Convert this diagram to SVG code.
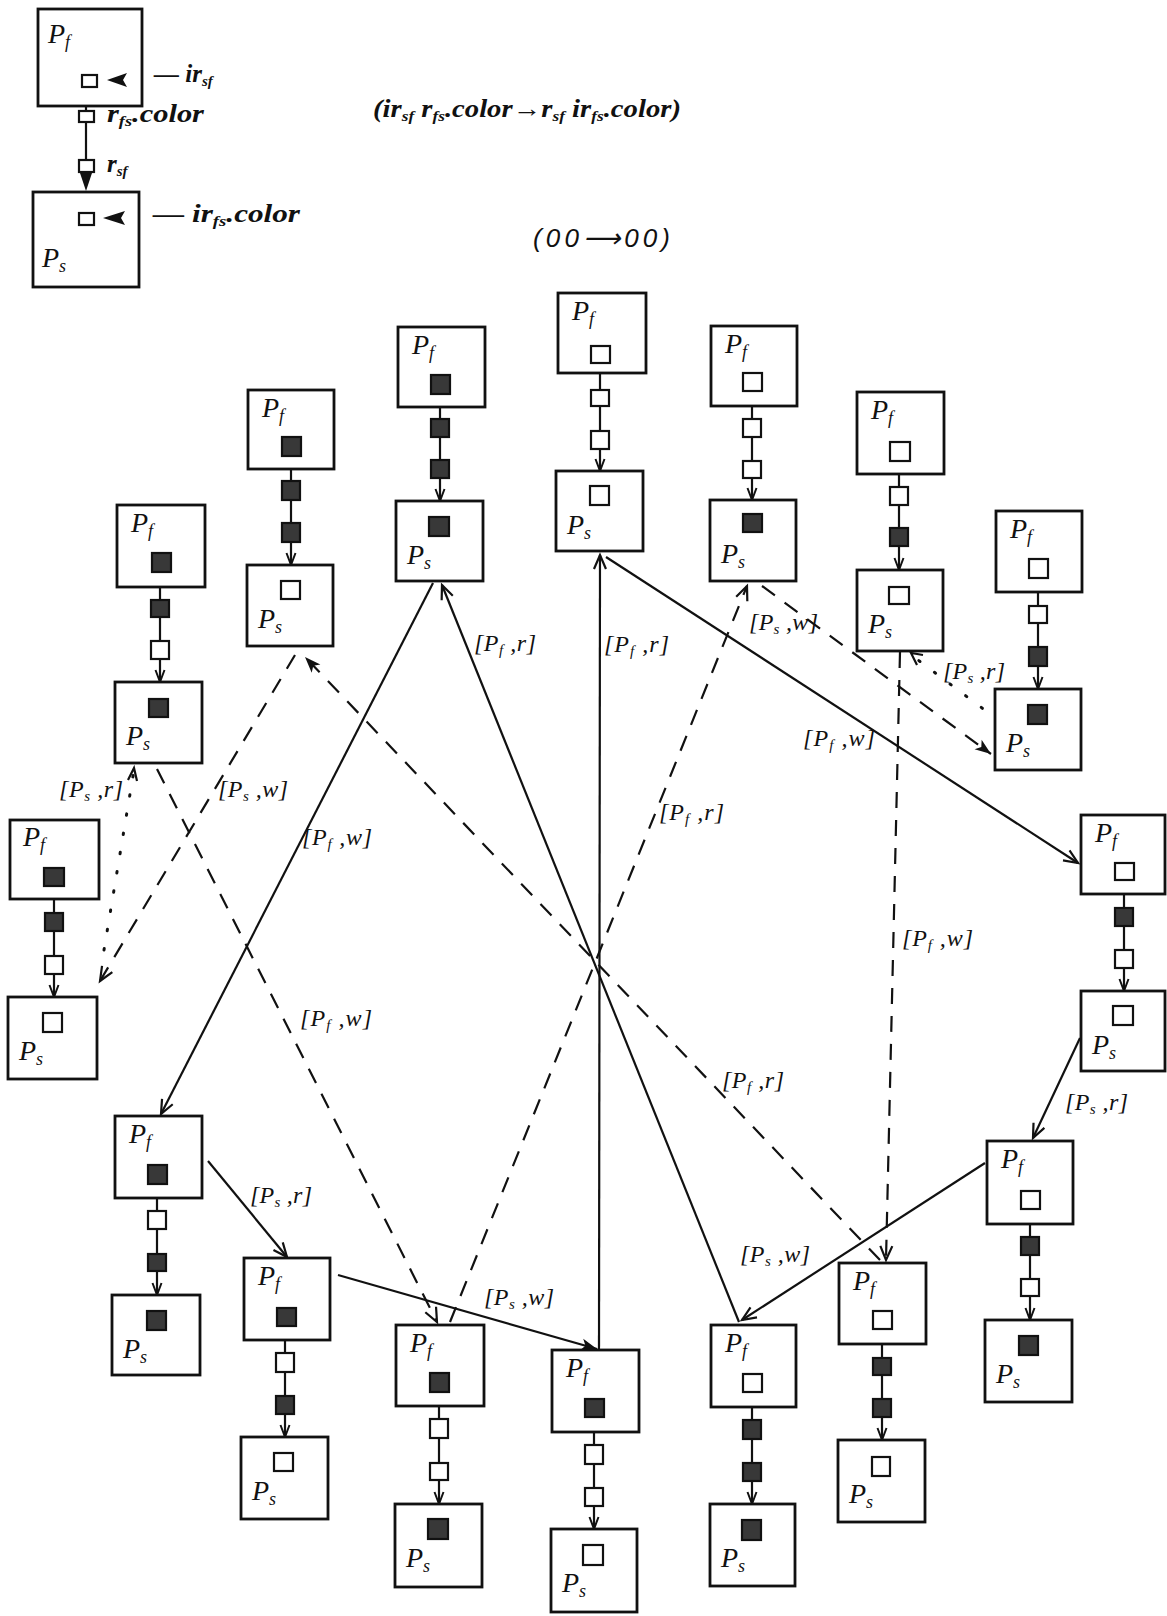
<svg xmlns="http://www.w3.org/2000/svg" width="1167" height="1616" viewBox="0 0 1167 1616">
<defs>
<style>
.box{fill:#fff;stroke:#111;stroke-width:2.8}
.sq{fill:#fff;stroke:#111;stroke-width:2.2}
.sqf{fill:#383838;stroke:#111;stroke-width:2.2}
.ln{stroke:#111;stroke-width:2.2;fill:none}
.dash{stroke-dasharray:16 12}
.dot{stroke-dasharray:1.5 18;stroke-linecap:round;stroke-width:3}
.lbl{font-family:"Liberation Serif",serif;font-style:italic;font-size:24px;fill:#111}
.sub{font-size:15px}
.nm{font-family:"Liberation Serif",serif;font-style:italic;font-size:28px;fill:#111}
.sb{font-size:18px}
.lg{font-family:"Liberation Serif",serif;font-style:italic;font-weight:bold;font-size:25px;fill:#111}
.lgs{font-size:15px}
</style>
<marker id="ao" markerUnits="userSpaceOnUse" markerWidth="20" markerHeight="16" refX="15" refY="8" orient="auto" overflow="visible"><path d="M1,2 L15,8 L1,14" fill="none" stroke="#111" stroke-width="2.2"/></marker>
<marker id="as" markerUnits="userSpaceOnUse" markerWidth="14" markerHeight="12" refX="12" refY="5" orient="auto" overflow="visible"><path d="M0,0.5 L12,5 L0,9.5" fill="none" stroke="#111" stroke-width="2"/></marker>
<marker id="af" markerUnits="userSpaceOnUse" markerWidth="20" markerHeight="16" refX="16" refY="7" orient="auto" overflow="visible"><path d="M0,1 L16,7 L0,13 L4,7 Z" fill="#111"/></marker>
</defs>
<rect width="1167" height="1616" fill="#fff"/>

<!-- Legend -->
<g id="legend">
<g id="legend-pf">
<rect class="box" x="38" y="9" width="104" height="97"/>
<text class="nm" x="48" y="43">P<tspan class="sb" dy="5">f</tspan></text>
<rect class="sq" x="82" y="75" width="15" height="12"/>
<polygon points="107,80 127,73 123,80 127,87" fill="#111"/>
</g>
<g id="legend-ps">
<rect class="box" x="33" y="192" width="106" height="95"/>
<text class="nm" x="42" y="267">P<tspan class="sb" dy="5">s</tspan></text>
<rect class="sq" x="79" y="213" width="15" height="12"/>
<polygon points="103,218 125,211 121,218 125,225" fill="#111"/>
</g>
<g id="legend-link">
<line class="ln" x1="86" y1="106" x2="86" y2="176"/>
<rect class="sq" x="79" y="111" width="15" height="11"/>
<rect class="sq" x="79" y="160" width="15" height="12"/>
<polygon points="80,173 92,173 86,191" fill="#111"/>
</g>
<text class="lg" x="154" y="82">— ir<tspan class="lgs" dy="4">sf</tspan></text>
<text class="lg" x="107" y="122" textLength="97" lengthAdjust="spacingAndGlyphs">r<tspan class="lgs" dy="4">fs</tspan><tspan dy="-4">.color</tspan></text>
<text class="lg" x="107" y="172">r<tspan class="lgs" dy="4">sf</tspan></text>
<text class="lg" x="153" y="222" textLength="147" lengthAdjust="spacingAndGlyphs">— ir<tspan class="lgs" dy="4">fs</tspan><tspan dy="-4">.color</tspan></text>
<text class="lg" x="373" y="117" textLength="308" lengthAdjust="spacingAndGlyphs">(ir<tspan class="lgs" dy="4">sf</tspan><tspan dy="-4"> r</tspan><tspan class="lgs" dy="4">fs</tspan><tspan dy="-4">.color→r</tspan><tspan class="lgs" dy="4">sf</tspan><tspan dy="-4"> ir</tspan><tspan class="lgs" dy="4">fs</tspan><tspan dy="-4">.color)</tspan></text>
<text x="533" y="247" textLength="137" lengthAdjust="spacing" style="font-family:'Liberation Sans',sans-serif;font-style:italic;font-size:26px;fill:#111">(00⟶00)</text>
</g>

<!-- Connectors -->
<g id="connectors">
<g id="links">
<line class="ln" x1="291" y1="469" x2="291" y2="565" marker-end="url(#as)"/>
<line class="ln" x1="160" y1="587" x2="160" y2="682" marker-end="url(#as)"/>
<line class="ln" x1="54" y1="899" x2="54" y2="997" marker-end="url(#as)"/>
<line class="ln" x1="157" y1="1198" x2="157" y2="1295" marker-end="url(#as)"/>
<line class="ln" x1="285" y1="1340" x2="285" y2="1437" marker-end="url(#as)"/>
<line class="ln" x1="439" y1="1406" x2="439" y2="1504" marker-end="url(#as)"/>
<line class="ln" x1="594" y1="1432" x2="594" y2="1529" marker-end="url(#as)"/>
<line class="ln" x1="752" y1="1407" x2="752" y2="1504" marker-end="url(#as)"/>
<line class="ln" x1="882" y1="1344" x2="882" y2="1440" marker-end="url(#as)"/>
<line class="ln" x1="1030" y1="1224" x2="1030" y2="1320" marker-end="url(#as)"/>
<line class="ln" x1="1124" y1="894" x2="1124" y2="991" marker-end="url(#as)"/>
<line class="ln" x1="1038" y1="592" x2="1038" y2="689" marker-end="url(#as)"/>
<line class="ln" x1="899" y1="474" x2="899" y2="570" marker-end="url(#as)"/>
<line class="ln" x1="752" y1="406" x2="752" y2="500" marker-end="url(#as)"/>
<line class="ln" x1="600" y1="373" x2="600" y2="471" marker-end="url(#as)"/>
<line class="ln" x1="440" y1="407" x2="440" y2="501" marker-end="url(#as)"/>
<rect class="sqf" x="282" y="481" width="18" height="19"/><rect class="sqf" x="282" y="523" width="18" height="19"/>
<rect class="sqf" x="151" y="600" width="18" height="17"/><rect class="sq" x="151" y="641" width="18" height="18"/>
<rect class="sqf" x="45" y="913" width="18" height="18"/><rect class="sq" x="45" y="956" width="18" height="18"/>
<rect class="sq" x="148" y="1211" width="18" height="18"/><rect class="sqf" x="148" y="1254" width="18" height="17"/>
<rect class="sq" x="276" y="1353" width="18" height="19"/><rect class="sqf" x="276" y="1396" width="18" height="18"/>
<rect class="sq" x="430" y="1419" width="18" height="19"/><rect class="sq" x="430" y="1463" width="18" height="17"/>
<rect class="sq" x="585" y="1445" width="18" height="19"/><rect class="sq" x="585" y="1488" width="18" height="18"/>
<rect class="sqf" x="743" y="1420" width="18" height="19"/><rect class="sqf" x="743" y="1463" width="18" height="18"/>
<rect class="sqf" x="873" y="1358" width="18" height="17"/><rect class="sqf" x="873" y="1399" width="18" height="18"/>
<rect class="sqf" x="1021" y="1237" width="18" height="18"/><rect class="sq" x="1021" y="1279" width="18" height="17"/>
<rect class="sqf" x="1115" y="908" width="18" height="18"/><rect class="sq" x="1115" y="950" width="18" height="18"/>
<rect class="sq" x="1029" y="606" width="18" height="17"/><rect class="sqf" x="1029" y="647" width="18" height="19"/>
<rect class="sq" x="890" y="487" width="18" height="18"/><rect class="sqf" x="890" y="528" width="18" height="18"/>
<rect class="sq" x="743" y="419" width="18" height="18"/><rect class="sq" x="743" y="461" width="18" height="17"/>
<rect class="sq" x="591" y="390" width="18" height="16"/><rect class="sq" x="591" y="431" width="18" height="18"/>
<rect class="sqf" x="431" y="419" width="18" height="18"/><rect class="sqf" x="431" y="460" width="18" height="18"/>
</g>
<line class="ln" x1="433" y1="583" x2="161" y2="1114" marker-end="url(#ao)"/>
<line class="ln" x1="739" y1="1322" x2="442" y2="585" marker-end="url(#ao)"/>
<line class="ln" x1="599" y1="1349" x2="600" y2="555" marker-end="url(#ao)"/>
<line class="ln" x1="606" y1="557" x2="1078" y2="863" marker-end="url(#ao)"/>
<line class="ln" x1="1080" y1="1038" x2="1033" y2="1138" marker-end="url(#ao)"/>
<line class="ln" x1="985" y1="1163" x2="742" y2="1320" marker-end="url(#ao)"/>
<line class="ln" x1="208" y1="1161" x2="287" y2="1257" marker-end="url(#ao)"/>
<line class="ln" x1="338" y1="1275" x2="597" y2="1349" marker-end="url(#af)"/>
<line class="ln dash" x1="157" y1="769" x2="437" y2="1322" marker-end="url(#ao)"/>
<line class="ln dash" x1="450" y1="1322" x2="747" y2="586" marker-end="url(#ao)"/>
<line class="ln dash" x1="295" y1="655" x2="100" y2="981" marker-end="url(#ao)"/>
<line class="ln dash" x1="880" y1="1260" x2="305" y2="657" marker-end="url(#af)"/>
<line class="ln dash" x1="762" y1="586" x2="991" y2="754" marker-end="url(#af)"/>
<line class="ln dash" x1="900" y1="652" x2="886" y2="1260" marker-end="url(#ao)"/>
<line class="ln dot" x1="104" y1="950" x2="134" y2="770"/>
<path class="ln" d="M128,780 L134,768 L137,781"/>
<line class="ln dot" x1="998" y1="720" x2="918" y2="660"/>
<path class="ln" d="M923,655 L911,653 L917,665"/>
<text class="lbl" x="302" y="845" textLength="70" lengthAdjust="spacing">[P<tspan class="sub" dy="4">f</tspan><tspan dy="-4"> ,w]</tspan></text>
<text class="lbl" x="474" y="651" textLength="62" lengthAdjust="spacing">[P<tspan class="sub" dy="4">f</tspan><tspan dy="-4"> ,r]</tspan></text>
<text class="lbl" x="604" y="652" textLength="65" lengthAdjust="spacing">[P<tspan class="sub" dy="4">f</tspan><tspan dy="-4"> ,r]</tspan></text>
<text class="lbl" x="803" y="746" textLength="72" lengthAdjust="spacing">[P<tspan class="sub" dy="4">f</tspan><tspan dy="-4"> ,w]</tspan></text>
<text class="lbl" x="1065" y="1110" textLength="63" lengthAdjust="spacing">[P<tspan class="sub" dy="4">s</tspan><tspan dy="-4"> ,r]</tspan></text>
<text class="lbl" x="740" y="1262" textLength="70" lengthAdjust="spacing">[P<tspan class="sub" dy="4">s</tspan><tspan dy="-4"> ,w]</tspan></text>
<text class="lbl" x="250" y="1203" textLength="62" lengthAdjust="spacing">[P<tspan class="sub" dy="4">s</tspan><tspan dy="-4"> ,r]</tspan></text>
<text class="lbl" x="484" y="1305" textLength="70" lengthAdjust="spacing">[P<tspan class="sub" dy="4">s</tspan><tspan dy="-4"> ,w]</tspan></text>
<text class="lbl" x="300" y="1026" textLength="72" lengthAdjust="spacing">[P<tspan class="sub" dy="4">f</tspan><tspan dy="-4"> ,w]</tspan></text>
<text class="lbl" x="659" y="820" textLength="65" lengthAdjust="spacing">[P<tspan class="sub" dy="4">f</tspan><tspan dy="-4"> ,r]</tspan></text>
<text class="lbl" x="218" y="797" textLength="70" lengthAdjust="spacing">[P<tspan class="sub" dy="4">s</tspan><tspan dy="-4"> ,w]</tspan></text>
<text class="lbl" x="722" y="1088" textLength="62" lengthAdjust="spacing">[P<tspan class="sub" dy="4">f</tspan><tspan dy="-4"> ,r]</tspan></text>
<text class="lbl" x="749" y="630" textLength="69" lengthAdjust="spacing">[P<tspan class="sub" dy="4">s</tspan><tspan dy="-4"> ,w]</tspan></text>
<text class="lbl" x="902" y="946" textLength="71" lengthAdjust="spacing">[P<tspan class="sub" dy="4">f</tspan><tspan dy="-4"> ,w]</tspan></text>
<text class="lbl" x="59" y="797" textLength="64" lengthAdjust="spacing">[P<tspan class="sub" dy="4">s</tspan><tspan dy="-4"> ,r]</tspan></text>
<text class="lbl" x="943" y="679" textLength="62" lengthAdjust="spacing">[P<tspan class="sub" dy="4">s</tspan><tspan dy="-4"> ,r]</tspan></text>
</g>

<!-- Nodes -->
<g id="n1-pf"><rect class="box" x="248" y="390" width="86" height="79"/><text class="nm" x="262" y="417">P<tspan class="sb" dy="5">f</tspan></text><rect class="sqf" x="282" y="437" width="19" height="19"/></g>
<g id="n1-ps"><rect class="box" x="247" y="565" width="86" height="81"/><text class="nm" x="258" y="628">P<tspan class="sb" dy="5">s</tspan></text><rect class="sq" x="281" y="581" width="19" height="18"/></g>

<g id="n2-pf"><rect class="box" x="117" y="505" width="88" height="82"/><text class="nm" x="131" y="532">P<tspan class="sb" dy="5">f</tspan></text><rect class="sqf" x="152" y="553" width="19" height="19"/></g>
<g id="n2-ps"><rect class="box" x="115" y="682" width="87" height="81"/><text class="nm" x="126" y="745">P<tspan class="sb" dy="5">s</tspan></text><rect class="sqf" x="149" y="699" width="19" height="18"/></g>

<g id="n3-pf"><rect class="box" x="10" y="820" width="89" height="79"/><text class="nm" x="23" y="846">P<tspan class="sb" dy="5">f</tspan></text><rect class="sqf" x="44" y="868" width="20" height="18"/></g>
<g id="n3-ps"><rect class="box" x="8" y="997" width="89" height="82"/><text class="nm" x="19" y="1060">P<tspan class="sb" dy="5">s</tspan></text><rect class="sq" x="43" y="1013" width="19" height="19"/></g>

<g id="n4-pf"><rect class="box" x="115" y="1116" width="87" height="82"/><text class="nm" x="129" y="1143">P<tspan class="sb" dy="5">f</tspan></text><rect class="sqf" x="148" y="1165" width="19" height="19"/></g>
<g id="n4-ps"><rect class="box" x="112" y="1295" width="88" height="80"/><text class="nm" x="123" y="1358">P<tspan class="sb" dy="5">s</tspan></text><rect class="sqf" x="147" y="1311" width="19" height="19"/></g>

<g id="n5-pf"><rect class="box" x="244" y="1258" width="86" height="82"/><text class="nm" x="258" y="1285">P<tspan class="sb" dy="5">f</tspan></text><rect class="sqf" x="277" y="1308" width="19" height="18"/></g>
<g id="n5-ps"><rect class="box" x="241" y="1437" width="87" height="82"/><text class="nm" x="252" y="1500">P<tspan class="sb" dy="5">s</tspan></text><rect class="sq" x="274" y="1453" width="19" height="18"/></g>

<g id="n6-pf"><rect class="box" x="396" y="1325" width="88" height="81"/><text class="nm" x="410" y="1352">P<tspan class="sb" dy="5">f</tspan></text><rect class="sqf" x="430" y="1373" width="19" height="19"/></g>
<g id="n6-ps"><rect class="box" x="395" y="1504" width="87" height="83"/><text class="nm" x="406" y="1567">P<tspan class="sb" dy="5">s</tspan></text><rect class="sqf" x="428" y="1519" width="20" height="20"/></g>

<g id="n7-pf"><rect class="box" x="552" y="1350" width="87" height="82"/><text class="nm" x="566" y="1377">P<tspan class="sb" dy="5">f</tspan></text><rect class="sqf" x="585" y="1399" width="19" height="18"/></g>
<g id="n7-ps"><rect class="box" x="551" y="1529" width="86" height="83"/><text class="nm" x="562" y="1592">P<tspan class="sb" dy="5">s</tspan></text><rect class="sq" x="583" y="1545" width="20" height="20"/></g>

<g id="n8-pf"><rect class="box" x="711" y="1325" width="85" height="82"/><text class="nm" x="725" y="1352">P<tspan class="sb" dy="5">f</tspan></text><rect class="sq" x="743" y="1374" width="19" height="18"/></g>
<g id="n8-ps"><rect class="box" x="710" y="1504" width="85" height="82"/><text class="nm" x="721" y="1567">P<tspan class="sb" dy="5">s</tspan></text><rect class="sqf" x="742" y="1520" width="19" height="20"/></g>

<g id="n9-pf"><rect class="box" x="839" y="1263" width="87" height="81"/><text class="nm" x="853" y="1290">P<tspan class="sb" dy="5">f</tspan></text><rect class="sq" x="873" y="1311" width="19" height="18"/></g>
<g id="n9-ps"><rect class="box" x="838" y="1440" width="87" height="82"/><text class="nm" x="849" y="1503">P<tspan class="sb" dy="5">s</tspan></text><rect class="sq" x="872" y="1457" width="18" height="19"/></g>

<g id="n10-pf"><rect class="box" x="987" y="1141" width="86" height="83"/><text class="nm" x="1001" y="1168">P<tspan class="sb" dy="5">f</tspan></text><rect class="sq" x="1021" y="1191" width="19" height="18"/></g>
<g id="n10-ps"><rect class="box" x="985" y="1320" width="87" height="82"/><text class="nm" x="996" y="1383">P<tspan class="sb" dy="5">s</tspan></text><rect class="sqf" x="1019" y="1336" width="19" height="19"/></g>

<g id="n11-pf"><rect class="box" x="1081" y="815" width="84" height="79"/><text class="nm" x="1095" y="842">P<tspan class="sb" dy="5">f</tspan></text><rect class="sq" x="1115" y="863" width="19" height="17"/></g>
<g id="n11-ps"><rect class="box" x="1081" y="991" width="84" height="80"/><text class="nm" x="1092" y="1054">P<tspan class="sb" dy="5">s</tspan></text><rect class="sq" x="1113" y="1006" width="20" height="19"/></g>

<g id="n12-pf"><rect class="box" x="996" y="511" width="86" height="81"/><text class="nm" x="1010" y="538">P<tspan class="sb" dy="5">f</tspan></text><rect class="sq" x="1029" y="559" width="19" height="19"/></g>
<g id="n12-ps"><rect class="box" x="995" y="689" width="86" height="81"/><text class="nm" x="1006" y="752">P<tspan class="sb" dy="5">s</tspan></text><rect class="sqf" x="1028" y="705" width="19" height="19"/></g>

<g id="n13-pf"><rect class="box" x="857" y="392" width="87" height="82"/><text class="nm" x="871" y="419">P<tspan class="sb" dy="5">f</tspan></text><rect class="sq" x="890" y="442" width="20" height="19"/></g>
<g id="n13-ps"><rect class="box" x="857" y="570" width="86" height="81"/><text class="nm" x="868" y="633">P<tspan class="sb" dy="5">s</tspan></text><rect class="sq" x="889" y="587" width="20" height="17"/></g>

<g id="n14-pf"><rect class="box" x="711" y="326" width="86" height="80"/><text class="nm" x="725" y="353">P<tspan class="sb" dy="5">f</tspan></text><rect class="sq" x="743" y="373" width="19" height="18"/></g>
<g id="n14-ps"><rect class="box" x="710" y="500" width="86" height="81"/><text class="nm" x="721" y="563">P<tspan class="sb" dy="5">s</tspan></text><rect class="sqf" x="743" y="514" width="19" height="18"/></g>

<g id="n15-pf"><rect class="box" x="558" y="293" width="88" height="80"/><text class="nm" x="572" y="320">P<tspan class="sb" dy="5">f</tspan></text><rect class="sq" x="591" y="346" width="19" height="17"/></g>
<g id="n15-ps"><rect class="box" x="556" y="471" width="87" height="80"/><text class="nm" x="567" y="534">P<tspan class="sb" dy="5">s</tspan></text><rect class="sq" x="590" y="486" width="19" height="19"/></g>

<g id="n16-pf"><rect class="box" x="398" y="327" width="87" height="80"/><text class="nm" x="412" y="354">P<tspan class="sb" dy="5">f</tspan></text><rect class="sqf" x="431" y="375" width="19" height="19"/></g>
<g id="n16-ps"><rect class="box" x="396" y="501" width="87" height="80"/><text class="nm" x="407" y="564">P<tspan class="sb" dy="5">s</tspan></text><rect class="sqf" x="429" y="517" width="20" height="19"/></g>
</svg>
